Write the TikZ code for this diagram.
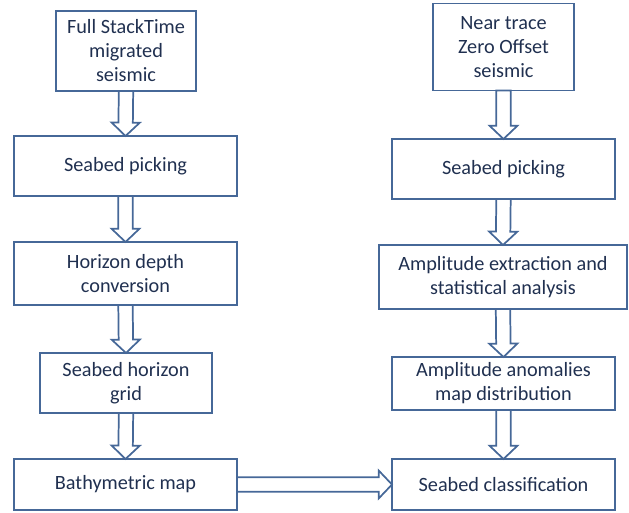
\documentclass[tikz,border=0pt]{standalone}
\usepackage{fontspec}
\setmainfont{Carlito}
\usetikzlibrary{calc}
\definecolor{boxline}{RGB}{70,104,152}
\definecolor{boxtext}{RGB}{32,48,80}

\begin{document}
\begin{tikzpicture}[
x=0.75pt, y=-0.75pt,
    B/.style = {rectangle, draw=boxline, line width=1.4pt,% boxes of both columns
                align=center, text=boxtext, outer sep=0pt,
                font=\fontsize{15.2}{18}\selectfont},
    F/.style = {draw=boxline, line width=1.3pt, line join=miter,% hollow block arrows
                to path={($(\tikztostart)!5.4pt!90:(\tikztotarget)$)
                 -- ($(\tikztotarget)!10pt!(\tikztostart)!5.4pt!90:(\tikztotarget)$)
                 -- ($(\tikztotarget)!10pt!(\tikztostart)!10.5pt!90:(\tikztotarget)$)
                 -- (\tikztotarget)
                 -- ($(\tikztotarget)!10pt!(\tikztostart)!10.5pt!-90:(\tikztotarget)$)
                 -- ($(\tikztotarget)!10pt!(\tikztostart)!5.4pt!-90:(\tikztotarget)$)
                 -- ($(\tikztostart)!5.4pt!-90:(\tikztotarget)$) -- cycle}},
                        ]
\useasboundingbox (0,0) rectangle (629,512);
% left column
\node[B, minimum width=105pt, minimum height=60pt] (L1) at (126,51)
    {Full StackTime\\ migrated\\ seismic};
\node[B, minimum width=167.25pt, minimum height=45pt] (L2) at (125.5,166)
    {Seabed picking};
\node[B, minimum width=167.25pt, minimum height=47.25pt] (L3) at (125.5,273.5)
    {Horizon depth\\ conversion};
\node[B, minimum width=129pt, minimum height=45pt] (L4) at (126,383)
    {Seabed horizon\\ grid};
\node[B, minimum width=167.25pt, minimum height=38.25pt] (L5) at (125.5,484.5)
    {Bathymetric map};
% right column
\node[B, minimum width=105.75pt, minimum height=65.25pt] (R1) at (503.5,47)
    {Near trace\\ Zero Offset\\ seismic};
\node[B, minimum width=167.25pt, minimum height=45pt] (R2) at (503.5,169)
    {Seabed picking};
\node[B, minimum width=186pt, minimum height=48pt] (R3) at (503,277)
    {Amplitude extraction and\\ statistical analysis};
\node[B, minimum width=167.25pt, minimum height=39.75pt] (R4) at (503.5,383.5)
    {Amplitude anomalies\\ map distribution};
\node[B, minimum width=167.25pt, minimum height=38.25pt] (R5) at (503.5,484.5)
    {Seabed classification};
% arrows
\foreach \a/\b in {L1/L2,L2/L3,L3/L4,L4/L5,R1/R2,R2/R3,R3/R4,R4/R5}
    \draw[F] (\a.south) to (\b.north);
\draw[F] (L5.east) to (R5.west);
\end{tikzpicture}
\end{document}
